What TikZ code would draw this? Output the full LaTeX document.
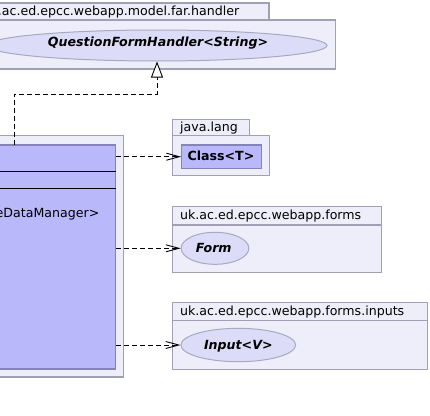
\documentclass[tikz,border=0pt]{standalone}
\usepackage{fontspec}
\setmainfont{DejaVu Sans}
\usetikzlibrary{arrows.meta,shapes.geometric}
\definecolor{pkgfill}{HTML}{EEEEFA}
\definecolor{pkgdraw}{HTML}{A0A0B4}
\definecolor{clsfill}{HTML}{B8B8FA}
\definecolor{clsdraw}{HTML}{8484B8}
\definecolor{ifill}{HTML}{DCDCF8}
\definecolor{idraw}{HTML}{A8A8C0}
\tikzset{
  pkg/.style={draw=pkgdraw,fill=pkgfill,line width=1.2pt},
  pkgtext/.style={inner sep=0pt,anchor=base west,font=\fontsize{12.6}{14}\selectfont},
  clsbox/.style={draw=clsdraw,fill=clsfill,line width=1.2pt,rectangle,inner sep=0pt},
  iface/.style={ellipse,draw=idraw,fill=ifill,line width=1pt,inner sep=0pt},
  itext/.style={inner sep=0pt,anchor=base,font=\fontsize{12.6}{14}\bfseries\itshape\selectfont},
  ctext/.style={inner sep=0pt,anchor=base,font=\fontsize{12.6}{14}\bfseries\selectfont},
  dep/.style={draw=black,line width=0.9pt,dash pattern=on 5pt off 3pt,-{Straight Barb[length=13pt,width=7pt,line width=0.9pt]}},
  inh/.style={draw=black,line width=0.9pt,dash pattern=on 5pt off 3pt,-{Triangle[length=16pt,width=12pt,fill=white,line width=0.9pt]}}
}
\begin{document}
\begin{tikzpicture}[x=1pt,y=-1pt]
\useasboundingbox (0,0) rectangle (430,415);
\clip (0,0) rectangle (430,415);
% top package
\draw[pkg] (-40,3) rectangle (269,20);
\draw[pkg] (-40,20) rectangle (335.7,69);
\node[inner sep=0pt,anchor=base east,font=\fontsize{12.6}{14}\selectfont] (toptab) at (239.5,15) {uk.ac.ed.epcc.webapp.model.far.handler};
\node[iface,minimum width=340pt,minimum height=31pt] (qfh) at (157,45.5) {};
\node[itext] (qfht) at (158,46.7) {QuestionFormHandler<String>};
% left package
\draw[pkg] (-40,135.5) rectangle (123.3,377);
\node[clsbox,minimum width=160pt,minimum height=224pt] (cls) at (35.7,257) {};
\draw[black,line width=0.9pt] (cls.west |- 0,171.7) -- (cls.east |- 0,171.7);
\draw[black,line width=0.9pt] (cls.west |- 0,188.7) -- (cls.east |- 0,188.7);
\node[inner sep=0pt,anchor=base east,font=\fontsize{12.6}{14}\selectfont] (clst) at (99.5,217.3) {eDataManager>};
% java.lang
\draw[pkg] (172.7,119.3) rectangle (249.3,135.7);
\draw[pkg] (172.7,135.7) rectangle (269.3,175.7);
\node[pkgtext] (jlt) at (180,131) {java.lang};
\node[clsbox,minimum width=80pt,minimum height=23.3pt] (ct) at (221.7,156.7) {};
\node[ctext] (ctt) at (221,160) {Class<T>};
% forms
\draw[pkg] (172.7,206.7) rectangle (381.3,225);
\draw[pkg] (172.7,225) rectangle (381.3,272.3);
\node[pkgtext] (fpt) at (180,219) {uk.ac.ed.epcc.webapp.forms};
\node[iface,minimum width=67.7pt,minimum height=32pt] (form) at (215,248.3) {};
\node[itext] (formt) at (213.8,252.3) {Form};
% inputs
\draw[pkg] (172.7,302.7) rectangle (427.7,320.7);
\draw[pkg] (172.7,320.7) rectangle (427.7,369.3);
\node[pkgtext] (ipt) at (180,315.7) {uk.ac.ed.epcc.webapp.forms.inputs};
\node[iface,minimum width=114.7pt,minimum height=33.4pt] (inp) at (238.3,345) {};
\node[itext] (inpt) at (238.3,349.3) {Input<V>};
% connectors
\coordinate (c1) at (14.3,145);
\draw[inh] (c1) -- (14.3,94) -| (qfh.south);
\draw[dep] (cls.east |- ct.west) -- (ct.west);
\draw[dep] (cls.east |- form.west) -- (form.west);
\draw[dep] (cls.east |- inp.west) -- (inp.west);
\end{tikzpicture}
\end{document}
